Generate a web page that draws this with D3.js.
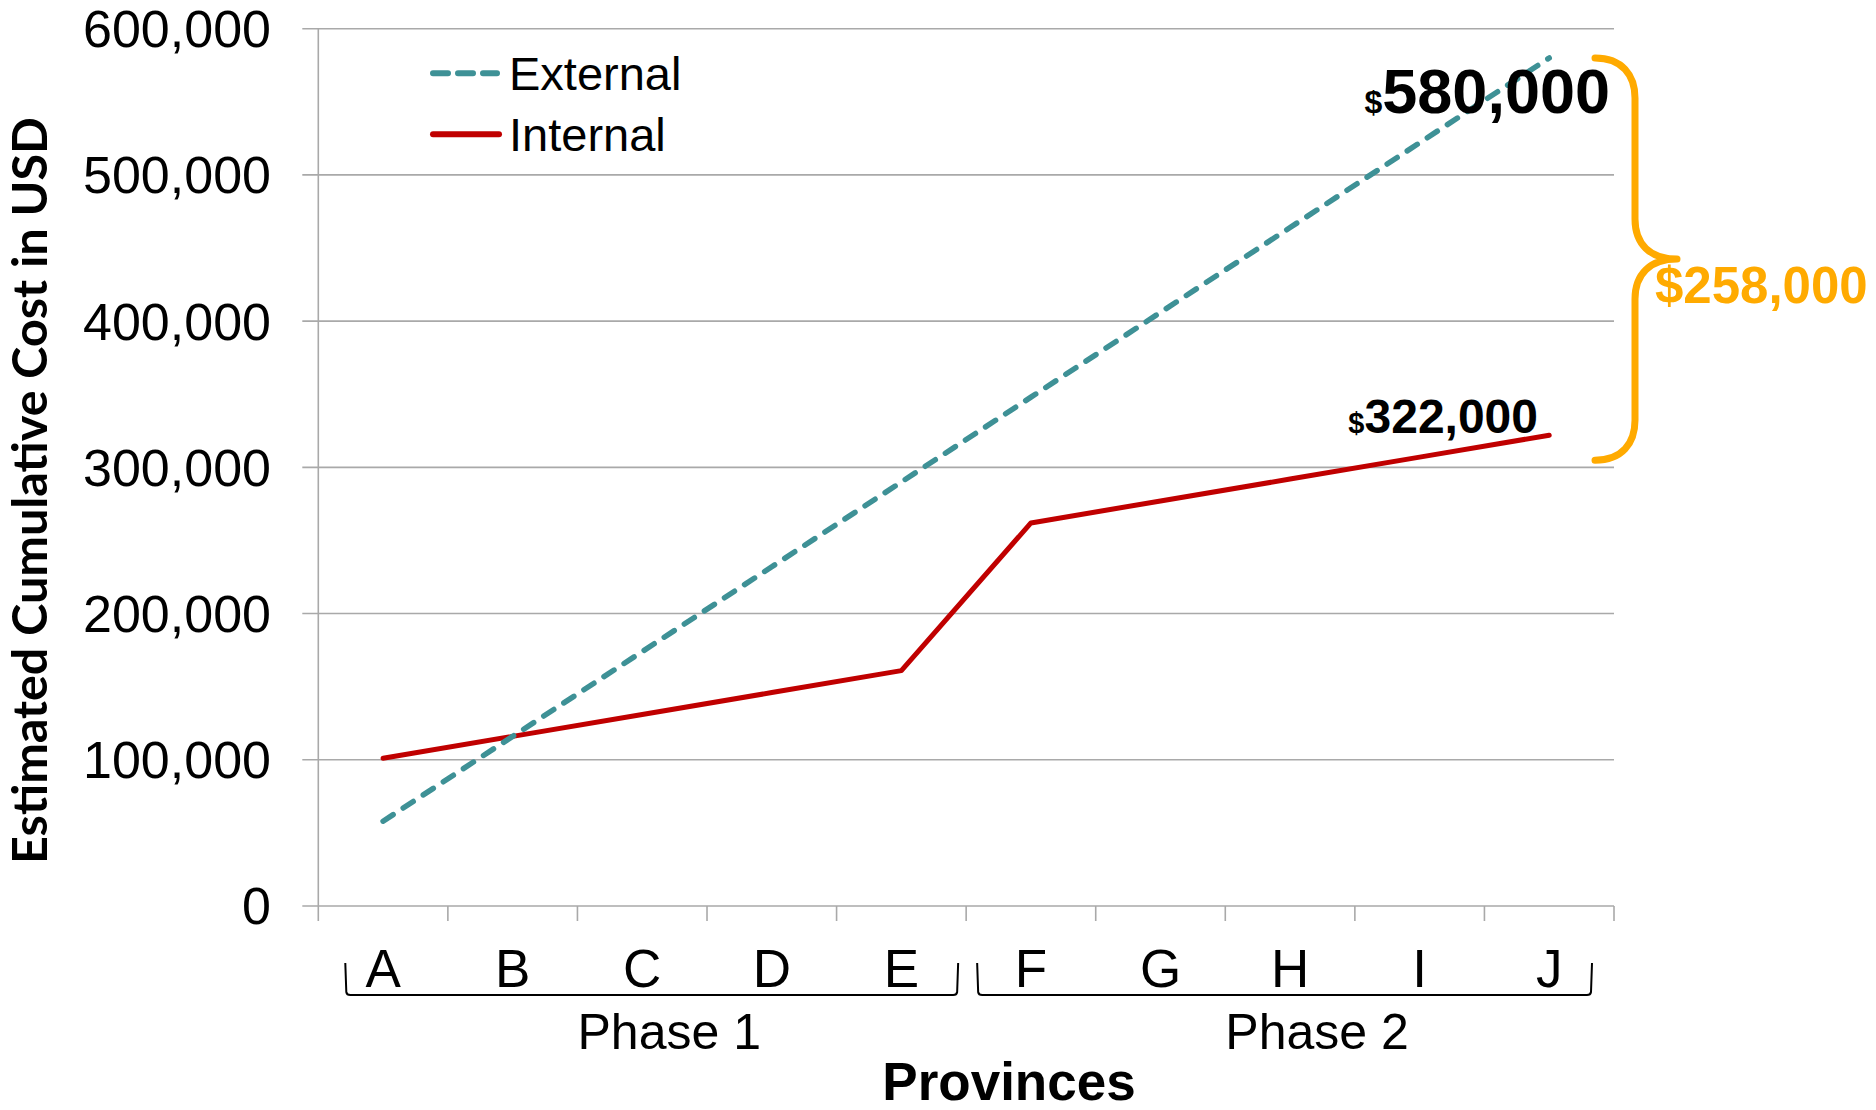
<!DOCTYPE html>
<html>
<head>
<meta charset="utf-8">
<script src="https://cdn.jsdelivr.net/npm/d3@7"></script>
<style>
  html, body { margin: 0; padding: 0; background: #fff; }
  svg { display: block; }
  text { font-family: "Liberation Sans", Arial, sans-serif; fill: #000; }
</style>
</head>
<body>
<svg id="chart" width="1876" height="1110"></svg>
<script>
// ---- data ----
const categories = ["A", "B", "C", "D", "E", "F", "G", "H", "I", "J"];
const externalCost = [58000, 116000, 174000, 232000, 290000, 348000, 406000, 464000, 522000, 580000];
const internalCost = [101000, 116000, 131000, 146000, 161000, 262000, 277000, 292000, 307000, 322000];
const yTickValues = [0, 100000, 200000, 300000, 400000, 500000, 600000];
const seriesNames = ["External", "Internal"];
const phaseNames = ["Phase 1", "Phase 2"];
const phaseStart = ["A", "F"];
const phaseEnd = ["E", "J"];
const externalTotal = 580000;
const internalTotal = 322000;
const differenceLabel = "$258,000";

(function () {
// ---- layout ----
const svg = d3.select("#chart");
const pLeft = 318.3, pRight = 1614, pTop = 28.7, pBottom = 906;
const colExt = "#3E9196", colInt = "#C00000", colGrid = "#A9A9A9", colOrange = "#FFAA00";

const x = d3.scaleBand().domain(categories).range([pLeft, pRight]).padding(0);
const y = d3.scaleLinear().domain([0, 600000]).range([pBottom, pTop]);
const fmt = d3.format(",");

// gridlines
svg.append("g").selectAll("line").data(yTickValues).join("line")
  .attr("x1", pLeft - 16).attr("x2", pRight)
  .attr("y1", d => y(d)).attr("y2", d => y(d))
  .attr("stroke", colGrid).attr("stroke-width", 1.6);

// y axis line
svg.append("line").attr("x1", pLeft).attr("x2", pLeft).attr("y1", pTop).attr("y2", pBottom)
  .attr("stroke", colGrid).attr("stroke-width", 1.6);

// x ticks at band edges
const edges = categories.map(c => x(c)).concat([pRight]);
svg.append("g").selectAll("line").data(edges).join("line")
  .attr("x1", d => d).attr("x2", d => d).attr("y1", pBottom).attr("y2", pBottom + 15)
  .attr("stroke", colGrid).attr("stroke-width", 1.6);

// y tick labels
svg.append("g").selectAll("text").data(yTickValues).join("text")
  .attr("x", 271).attr("y", d => y(d)).attr("dy", "0.355em")
  .attr("text-anchor", "end").attr("font-size", 52)
  .text(d => fmt(d));

// x category labels
svg.append("g").selectAll("text").data(categories).join("text")
  .attr("x", d => x(d) + x.bandwidth() / 2).attr("y", 987)
  .attr("text-anchor", "middle").attr("font-size", 53)
  .text(d => d);

// phase brackets
const insets = [[27, 8], [11, 22]];
phaseNames.forEach((name, i) => {
  const x0 = x(phaseStart[i]) + insets[i][0];
  const x1 = x(phaseEnd[i]) + x.bandwidth() - insets[i][1];
  const yt = 963, yb = 995;
  svg.append("path")
    .attr("d", `M${x0},${yt} L${x0 + 1},${yb - 3} Q${x0 + 1.5},${yb} ${x0 + 5},${yb} L${x1 - 5},${yb} Q${x1 - 1.5},${yb} ${x1 - 1},${yb - 3} L${x1},${yt}`)
    .attr("fill", "none").attr("stroke", "#000").attr("stroke-width", 2);
  const cx = (x(phaseStart[i]) + x(phaseEnd[i]) + x.bandwidth()) / 2 + 27;
  svg.append("text").attr("x", cx).attr("y", 1049)
    .attr("text-anchor", "middle").attr("font-size", 50).text(name);
});

// axis titles
svg.append("text").attr("x", 1009).attr("y", 1100)
  .attr("text-anchor", "middle").attr("font-size", 53).attr("font-weight", "bold")
  .text("Provinces");

const yTitle = svg.append("text")
  .attr("transform", "translate(47,490.5) rotate(-90)")
  .attr("text-anchor", "middle")
  .style("font-family", "Lato, 'Open Sans', sans-serif")
  .attr("font-weight", "bold").attr("font-size", 44)
  .text("Estimated Cumulative Cost in USD");
const len = yTitle.node().getComputedTextLength();
if (len > 0) yTitle.attr("font-size", 44 * 747 / len);

// lines
const line = d3.line().x((d, i) => x(categories[i]) + x.bandwidth() / 2).y(d => y(d));
svg.append("path").datum(internalCost).attr("d", line)
  .attr("fill", "none").attr("stroke", colInt).attr("stroke-width", 5)
  .attr("stroke-linejoin", "round").attr("stroke-linecap", "round");
svg.append("path").datum(externalCost).attr("d", line)
  .attr("fill", "none").attr("stroke", colExt).attr("stroke-width", 5.5)
  .attr("stroke-dasharray", "12,12").attr("stroke-linecap", "round");

// legend
const lg = svg.append("g");
lg.append("line").attr("x1", 433).attr("x2", 497).attr("y1", 73.3).attr("y2", 73.3)
  .attr("stroke", colExt).attr("stroke-width", 6).attr("stroke-linecap", "round")
  .attr("stroke-dasharray", "15,10");
lg.append("line").attr("x1", 433).attr("x2", 499).attr("y1", 134.3).attr("y2", 134.3)
  .attr("stroke", colInt).attr("stroke-width", 6).attr("stroke-linecap", "round");
lg.append("text").attr("x", 509).attr("y", 90).attr("font-size", 47).text(seriesNames[0]);
lg.append("text").attr("x", 509).attr("y", 151).attr("font-size", 47).text(seriesNames[1]);

// value labels
const t1 = svg.append("text").attr("x", 1610).attr("y", 113).attr("text-anchor", "end")
  .attr("font-weight", "bold");
t1.append("tspan").attr("font-size", 32).text("$");
t1.append("tspan").attr("font-size", 63).text(fmt(externalTotal));

const t2 = svg.append("text").attr("x", 1538).attr("y", 433).attr("text-anchor", "end")
  .attr("font-weight", "bold");
t2.append("tspan").attr("font-size", 29).text("$");
t2.append("tspan").attr("font-size", 48).text(fmt(internalTotal));

// orange brace
const bt = y(externalTotal), bb = y(internalTotal) + 25, bm = (bt + bb) / 2;
const bx0 = 1595, bx1 = 1635, btip = 1677, r = 40;
svg.append("path")
  .attr("d", `M${bx0},${bt} C${bx0 + 27},${bt} ${bx1},${bt + 17} ${bx1},${bt + r}
    L${bx1},${bm - r} C${bx1},${bm - 15} ${bx1 + 15},${bm} ${btip},${bm}
    C${bx1 + 15},${bm} ${bx1},${bm + 15} ${bx1},${bm + r}
    L${bx1},${bb - r} C${bx1},${bb - 17} ${bx0 + 27},${bb} ${bx0},${bb}`)
  .attr("fill", "none").attr("stroke", colOrange).attr("stroke-width", 7)
  .attr("stroke-linejoin", "round").attr("stroke-linecap", "round");

svg.append("text").attr("x", 1655).attr("y", 303).attr("font-size", 51)
  .attr("font-weight", "bold").style("fill", colOrange).text(differenceLabel);
})();
</script>
</body>
</html>
